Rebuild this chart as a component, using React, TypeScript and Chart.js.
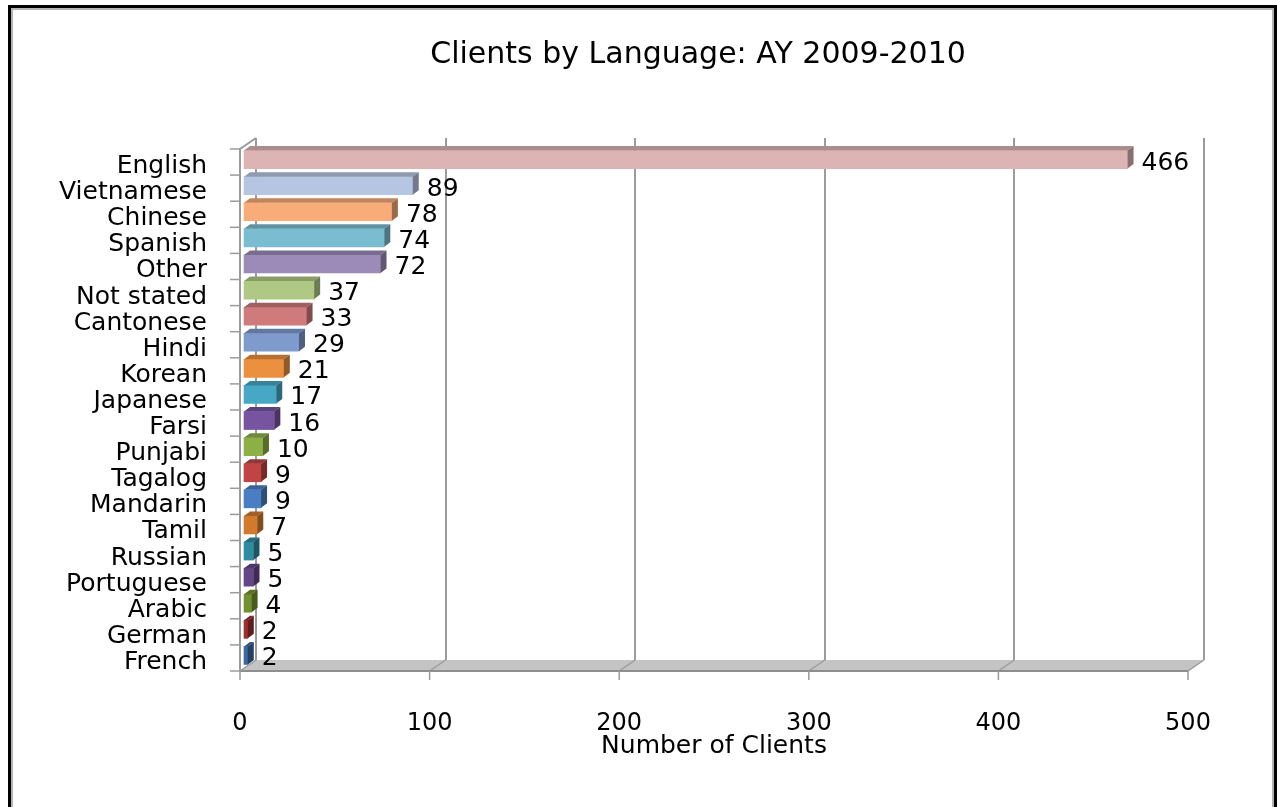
import React, { useEffect, useRef } from "react";
import { Chart, registerables } from "chart.js";

Chart.register(...registerables);

const categories = [
  "English", "Vietnamese", "Chinese", "Spanish", "Other", "Not stated", "Cantonese",
  "Hindi", "Korean", "Japanese", "Farsi", "Punjabi", "Tagalog", "Mandarin", "Tamil",
  "Russian", "Portuguese", "Arabic", "German", "French",
];
const clients = [466, 89, 78, 74, 72, 37, 33, 29, 21, 17, 16, 10, 9, 9, 7, 5, 5, 4, 2, 2];
const barColors = [
  "#DDB4B4", "#B6C6E2", "#F9AC78", "#7BBDD0", "#9C8AB9", "#AFC883", "#CF7B7B",
  "#7F9ACC", "#EA903F", "#46A8C4", "#7654A0", "#8DB046", "#C04444", "#4A7EC4",
  "#D17A2E", "#2F8BA0", "#654689", "#72922F", "#9C2F2F", "#3B689F",
];
const xTicks = [0, 100, 200, 300, 400, 500];
const chartTitle = "Clients by Language: AY 2009-2010";
const xTitle = "Number of Clients";

const FONT = "'DejaVu Sans', sans-serif";
const WALL_DX = 16;
const WALL_DY = -11;
const BAR_DX = 4;
const BAR_DY = -2.5;
const FACE_DX = 6;
const FACE_DY = -4.5;

function shade(hex: string, f: number): string {
  const n = parseInt(hex.slice(1), 16);
  const r = Math.round(((n >> 16) & 255) * f);
  const g = Math.round(((n >> 8) & 255) * f);
  const b = Math.round((n & 255) * f);
  return `rgb(${r},${g},${b})`;
}

const frame3d = {
  id: "frame3d",
  beforeDatasetsDraw(chart: any) {
    const { ctx, chartArea: a, scales } = chart;
    const x = scales.x;
    const x0 = x.getPixelForValue(xTicks[0]);
    const x1 = x.getPixelForValue(xTicks[xTicks.length - 1]);
    ctx.save();
    // floor
    ctx.fillStyle = "#c4c4c4";
    ctx.beginPath();
    ctx.moveTo(x0, a.bottom);
    ctx.lineTo(x1, a.bottom);
    ctx.lineTo(x1 + WALL_DX, a.bottom + WALL_DY);
    ctx.lineTo(x0 + WALL_DX, a.bottom + WALL_DY);
    ctx.closePath();
    ctx.fill();
    // back wall gridlines
    ctx.strokeStyle = "#9b9b9b";
    ctx.lineWidth = 2;
    for (const v of xTicks) {
      const px = Math.round(x.getPixelForValue(v) + WALL_DX);
      ctx.beginPath();
      ctx.moveTo(px, a.top + WALL_DY);
      ctx.lineTo(px, a.bottom + WALL_DY);
      ctx.stroke();
    }
    // floor diagonals
    ctx.lineWidth = 1.5;
    for (const v of xTicks) {
      const px = x.getPixelForValue(v);
      ctx.beginPath();
      ctx.moveTo(px, a.bottom);
      ctx.lineTo(px + WALL_DX, a.bottom + WALL_DY);
      ctx.stroke();
    }
    // floor front edge
    ctx.strokeStyle = "#8e8e8e";
    ctx.lineWidth = 2;
    ctx.beginPath();
    ctx.moveTo(x0, a.bottom);
    ctx.lineTo(x1, a.bottom);
    ctx.stroke();
    // front ticks
    ctx.strokeStyle = "#9b9b9b";
    ctx.lineWidth = 1.5;
    for (const v of xTicks) {
      const px = x.getPixelForValue(v);
      ctx.beginPath();
      ctx.moveTo(px, a.bottom);
      ctx.lineTo(px, a.bottom + 9);
      ctx.stroke();
    }
    // left wall front edge + top diagonal
    ctx.lineWidth = 2;
    ctx.beginPath();
    ctx.moveTo(x0, a.bottom);
    ctx.lineTo(x0, a.top);
    ctx.lineTo(x0 + WALL_DX, a.top + WALL_DY);
    ctx.stroke();
    // category ticks
    ctx.lineWidth = 1.5;
    const step = (a.bottom - a.top) / categories.length;
    for (let k = 0; k <= categories.length; k++) {
      const py = a.top + step * k;
      ctx.beginPath();
      ctx.moveTo(x0 - 10, py);
      ctx.lineTo(x0, py);
      ctx.stroke();
    }
    ctx.restore();
  },
  beforeDatasetDraw(chart: any) {
    chart.ctx.save();
    chart.ctx.translate(BAR_DX, BAR_DY);
  },
  afterDatasetDraw(chart: any, args: any) {
    const ctx = chart.ctx;
    args.meta.data.forEach((bar: any, i: number) => {
      const { x, y, base, height } = bar.getProps(["x", "y", "base", "height"], true);
      const top = y - height / 2;
      const bottom = y + height / 2;
      const c = barColors[i];
      ctx.fillStyle = shade(c, 0.78);
      ctx.beginPath();
      ctx.moveTo(base, top);
      ctx.lineTo(x, top);
      ctx.lineTo(x + FACE_DX, top + FACE_DY);
      ctx.lineTo(base + FACE_DX, top + FACE_DY);
      ctx.closePath();
      ctx.fill();
      ctx.fillStyle = shade(c, 0.62);
      ctx.beginPath();
      ctx.moveTo(x, top);
      ctx.lineTo(x + FACE_DX, top + FACE_DY);
      ctx.lineTo(x + FACE_DX, bottom + FACE_DY);
      ctx.lineTo(x, bottom);
      ctx.closePath();
      ctx.fill();
    });
    ctx.restore();
  },
  afterDatasetsDraw(chart: any) {
    const { ctx, scales } = chart;
    const meta = chart.getDatasetMeta(0);
    ctx.save();
    ctx.fillStyle = "#000";
    ctx.font = `25px ${FONT}`;
    ctx.textAlign = "left";
    ctx.textBaseline = "middle";
    meta.data.forEach((bar: any, i: number) => {
      const v = clients[i];
      const px = scales.x.getPixelForValue(v) + BAR_DX + 14;
      ctx.fillText(String(v), px, bar.y + 1);
    });
    ctx.font = `30px ${FONT}`;
    ctx.textAlign = "center";
    ctx.fillText(chartTitle, 698, 55);
    ctx.restore();
  },
};

export default function App() {
  const ref = useRef<HTMLCanvasElement | null>(null);

  useEffect(() => {
    document.body.style.overflow = "hidden";
    document.documentElement.style.overflow = "hidden";
    const canvas = ref.current;
    if (!canvas) return;
    const chart = new Chart(canvas, {
      type: "bar",
      data: {
        labels: categories,
        datasets: [
          {
            data: clients,
            backgroundColor: barColors,
            borderWidth: 0,
            barThickness: 18,
            clip: false as any,
          },
        ],
      },
      options: {
        indexAxis: "y",
        responsive: false,
        animation: false,
        layout: { padding: { top: 149, right: 89, bottom: 46, left: 0 } },
        plugins: {
          legend: { display: false },
          title: { display: false },
          tooltip: { enabled: false },
        },
        scales: {
          x: {
            min: 0,
            max: 500,
            ticks: {
              stepSize: 100,
              padding: 38,
              color: "#000",
              font: { family: FONT, size: 24 },
              maxRotation: 0,
              autoSkip: false,
            },
            grid: { display: false, drawTicks: false },
            border: { display: false },
            title: {
              display: true,
              text: xTitle,
              color: "#000",
              font: { family: FONT, size: 25 },
              padding: 0,
            },
            afterFit(s: any) {
              s.height = 90;
            },
          },
          y: {
            ticks: {
              padding: 33,
              labelOffset: 4.5,
              color: "#000",
              font: { family: FONT, size: 25 },
              autoSkip: false,
            },
            grid: { display: false, drawTicks: false },
            border: { display: false },
            afterFit(s: any) {
              s.width = 240;
            },
          },
        },
      } as any,
      plugins: [frame3d as any],
    });
    return () => chart.destroy();
  }, []);

  return (
    <div>
      <canvas
        ref={ref}
        width={1277}
        height={807}
        style={{ position: "fixed", left: 0, top: 0, display: "block", background: "#fff" }}
      />
      <div
        style={{
          position: "fixed",
          left: 8,
          top: 5,
          width: 1269,
          height: 900,
          boxSizing: "border-box",
          border: "3px solid #000",
          boxShadow: "inset 0 0 0 2px #b4b4b4",
          pointerEvents: "none",
        }}
      />
    </div>
  );
}
